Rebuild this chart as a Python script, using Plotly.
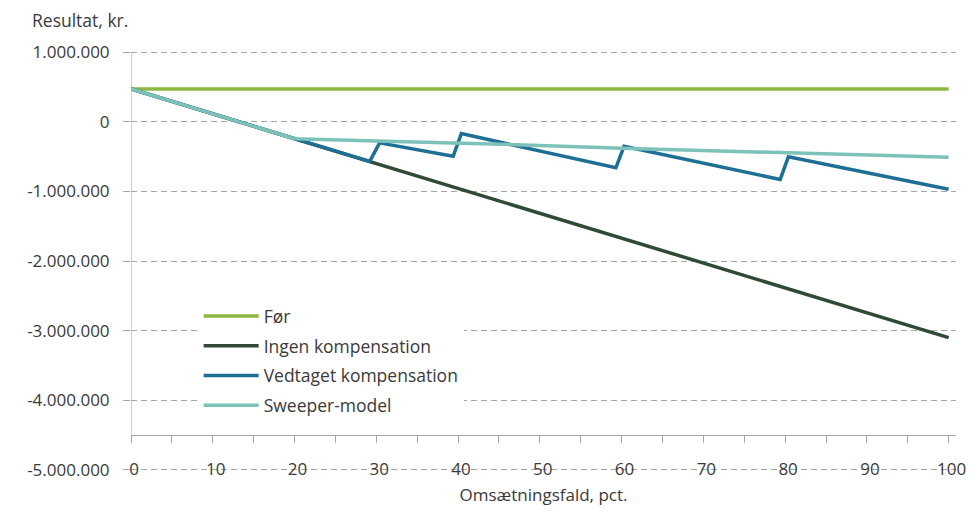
import plotly.graph_objects as go

# ---- data ----
x_for = [0, 100]
y_for = [470000, 470000]

x_ingen = [0, 20, 29.2, 100]
y_ingen = [470000, -244000, -570000, -3100000]

x_vedtaget = [0, 20, 29.2, 30.4, 39.4, 40.4, 59.3, 60.3, 79.4, 80.4, 100]
y_vedtaget = [470000, -244000, -570000, -304000, -496000, -171000, -661000, -353000, -829000, -504000, -971000]

x_sweeper = [0, 20, 30, 40, 50, 60, 70, 80, 90, 100]
y_sweeper = [470000, -244000, -275000, -302000, -340000, -380000, -410000, -443000, -472000, -510000]

series_names = ["Før", "Ingen kompensation", "Vedtaget kompensation", "Sweeper-model"]
series_colors = ["#8DB83E", "#2F4B36", "#1E6F95", "#7CC2B8"]

y_tickvals = [1000000, 0, -1000000, -2000000, -3000000, -4000000, -5000000]
y_ticktext = ["1.000.000", "0", "-1.000.000", "-2.000.000", "-3.000.000", "-4.000.000", "-5.000.000"]
x_tickvals = [0, 10, 20, 30, 40, 50, 60, 70, 80, 90, 100]

Y_RANGE = [-5030000, 1030000]
X_RANGE = [0, 100.9]
X_AXIS_AT = -4500000  # value where the category axis crosses

FONT = "Open Sans"
TXT = "#3a3a3a"
GRID = "#a6a6a6"

fig = go.Figure()
for i, (xs, ys) in enumerate([(x_for, y_for), (x_ingen, y_ingen),
                              (x_vedtaget, y_vedtaget), (x_sweeper, y_sweeper)]):
    fig.add_trace(go.Scatter(
        x=xs, y=ys, mode="lines", name=series_names[i],
        line=dict(color=series_colors[i], width=3.5),
        legendgroup=str(i),
    ))

pos = (X_AXIS_AT - Y_RANGE[0]) / (Y_RANGE[1] - Y_RANGE[0])

fig.update_layout(
    width=960, height=498,
    margin=dict(l=123, r=12, t=42, b=34, autoexpand=False),
    plot_bgcolor="white", paper_bgcolor="white",
    font=dict(family=FONT, size=17, color=TXT),
    showlegend=True,
    legend=dict(x=0.082, y=0.412, xanchor="left", yanchor="top",
                bgcolor="white", font=dict(size=17.5, color=TXT),
                tracegroupgap=4, itemwidth=55, traceorder="grouped"),
    xaxis=dict(range=X_RANGE, anchor="free", position=pos, automargin=False,
               tickvals=x_tickvals, ticks="outside", ticklen=7, tickcolor=GRID,
               minor=dict(dtick=5, ticks="outside", ticklen=7, tickcolor=GRID, showgrid=False),
               showline=True, linecolor=GRID, linewidth=1,
               showgrid=False, zeroline=False,
               ticklabelstandoff=12, ticklabelshift=3,
               tickfont=dict(size=17, color=TXT),
               title=dict(text="Omsætningsfald, pct.", font=dict(size=17, color=TXT), standoff=10)),
    yaxis=dict(range=Y_RANGE, tickvals=y_tickvals, ticktext=y_ticktext, automargin=False,
               ticks="outside", ticklen=7, tickcolor=GRID,
               showgrid=True, gridcolor=GRID, griddash="6px,4px", gridwidth=1,
               zeroline=False, showline=False,
               ticklabelstandoff=10,
               tickfont=dict(size=17, color=TXT)),
    annotations=[dict(text="Resultat, kr.", xref="paper", yref="paper",
                      x=-101/825, y=1.0, xanchor="left", yanchor="bottom",
                      yshift=16, showarrow=False, font=dict(size=17.5, color=TXT))],
    shapes=[dict(type="line", xref="x", yref="y", x0=0, x1=0, y0=1000000, y1=X_AXIS_AT,
                 line=dict(color=GRID, width=1), layer="below")],
)

fig.write_html("out.html")
